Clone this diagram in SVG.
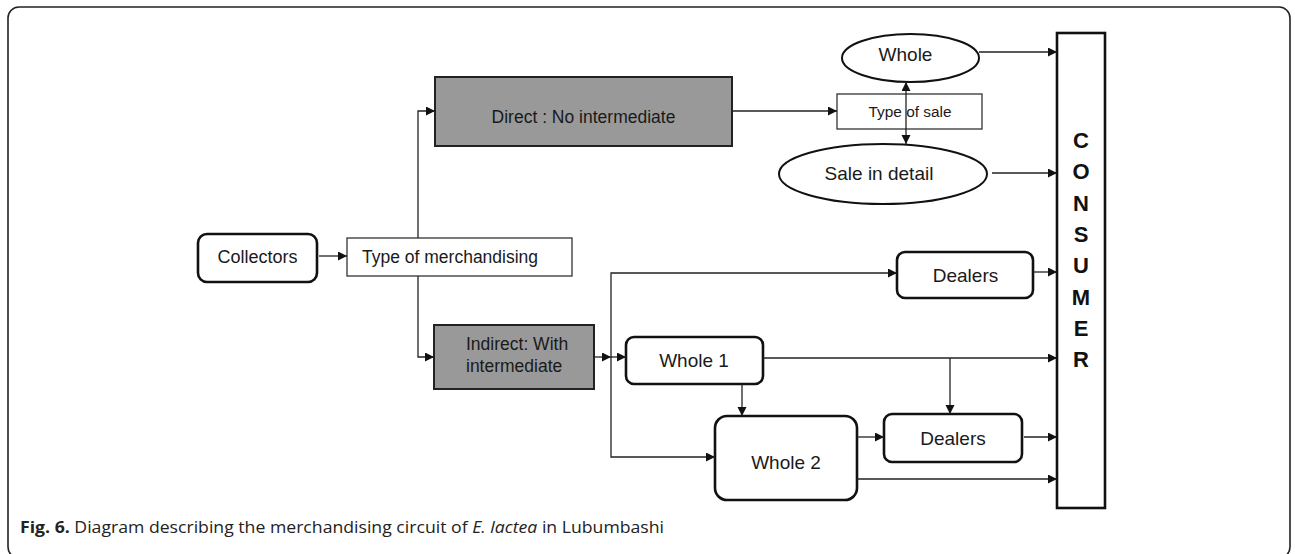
<svg xmlns="http://www.w3.org/2000/svg" width="1295" height="554" viewBox="0 0 1295 554">
<style>
.t{font-family:"Liberation Sans",Arial,sans-serif;fill:#1a1a1a}
.rn{fill:#fff;stroke:#111;stroke-width:2.6}
.bx{fill:#fff;stroke:#333;stroke-width:1.3}
.gr{fill:#999;stroke:#222;stroke-width:2}
.el{fill:#fff;stroke:#111;stroke-width:2}
.c{fill:none;stroke:#222;stroke-width:1.3}
.a{marker-end:url(#ah)}
.cons{font-family:"Liberation Sans",Arial,sans-serif;font-weight:bold;font-size:22px;fill:#111}
.cap{font-family:"Open Sans","Noto Sans",sans-serif;font-size:16.5px;fill:#222}
</style>
<defs>
<marker id="ah" markerUnits="userSpaceOnUse" markerWidth="10" markerHeight="10" refX="9" refY="4.5" orient="auto">
<path d="M0,0 L9,4.5 L0,9 z" fill="#111"/>
</marker>
</defs>
<rect x="8" y="7" width="1282" height="551" rx="11" fill="#fff" stroke="#222" stroke-width="1.6"/>

<g id="collectors">
<rect class="rn" x="198" y="234" width="119" height="48" rx="9"/>
<text class="t" x="257.5" y="263" font-size="18" text-anchor="middle">Collectors</text>
</g>
<g id="type-merch">
<rect class="bx" x="347" y="238" width="225" height="38"/>
<text class="t" x="362" y="263" font-size="17.5">Type of merchandising</text>
</g>
<g id="direct">
<rect class="gr" x="435" y="77" width="297" height="69"/>
<text class="t" x="583.5" y="123" font-size="17.5" text-anchor="middle">Direct : No intermediate</text>
</g>
<g id="type-sale">
<rect class="bx" x="837" y="94" width="145" height="35"/>
<text class="t" x="910" y="117" font-size="15.4" text-anchor="middle">Type of sale</text>
</g>
<g id="whole">
<ellipse class="el" cx="910.5" cy="58" rx="68.5" ry="24"/>
<text class="t" x="905.5" y="61" font-size="19" text-anchor="middle">Whole</text>
</g>
<g id="sale-detail">
<ellipse class="el" cx="883" cy="174" rx="104" ry="30"/>
<text class="t" x="879" y="180" font-size="19" text-anchor="middle">Sale in detail</text>
</g>
<g id="indirect">
<rect class="gr" x="434" y="325" width="160" height="64"/>
<text class="t" x="466" y="350" font-size="17.5">Indirect: With</text>
<text class="t" x="466" y="372" font-size="17.5">intermediate</text>
</g>
<g id="dealers1">
<rect class="rn" x="897" y="252" width="136" height="46" rx="8"/>
<text class="t" x="965.5" y="282" font-size="19" text-anchor="middle">Dealers</text>
</g>
<g id="whole1">
<rect class="rn" x="626" y="337" width="137" height="47" rx="8"/>
<text class="t" x="694" y="367" font-size="19" text-anchor="middle">Whole 1</text>
</g>
<g id="whole2">
<rect class="rn" x="715" y="416" width="142" height="84" rx="12"/>
<text class="t" x="786" y="469" font-size="19" text-anchor="middle">Whole 2</text>
</g>
<g id="dealers2">
<rect class="rn" x="884" y="414" width="138" height="48" rx="8"/>
<text class="t" x="953" y="445" font-size="19" text-anchor="middle">Dealers</text>
</g>
<g id="consumer">
<rect x="1057" y="33" width="48" height="475" fill="#fff" stroke="#111" stroke-width="2.6"/>
<text class="cons" x="1081" y="148" text-anchor="middle">C</text>
<text class="cons" x="1081" y="179" text-anchor="middle">O</text>
<text class="cons" x="1081" y="211" text-anchor="middle">N</text>
<text class="cons" x="1081" y="242" text-anchor="middle">S</text>
<text class="cons" x="1081" y="273" text-anchor="middle">U</text>
<text class="cons" x="1081" y="305" text-anchor="middle">M</text>
<text class="cons" x="1081" y="336" text-anchor="middle">E</text>
<text class="cons" x="1081" y="367" text-anchor="middle">R</text>
</g>

<g id="connectors">
<path class="c a" d="M319,256 H347"/>
<path class="c a" d="M418,238 V111 H435"/>
<path class="c a" d="M418,276 V357 H434"/>
<path class="c a" d="M732,111 H837"/>
<path class="c a" d="M906,112 V82"/>
<path class="c a" d="M906,112 V144"/>
<path class="c a" d="M979,52 H1057"/>
<path class="c a" d="M992,173 H1057"/>
<path class="c a" d="M594,357 H611"/>
<path class="c a" d="M611,357 H626"/>
<path class="c a" d="M611,357 V273 H897"/>
<path class="c a" d="M611,357 V457 H715"/>
<path class="c a" d="M1033,272 H1057"/>
<path class="c a" d="M763,358 H1057"/>
<path class="c a" d="M950,358 V414"/>
<path class="c a" d="M742,384 V416"/>
<path class="c a" d="M857,437 H884"/>
<path class="c a" d="M1024,437 H1057"/>
<path class="c a" d="M857,479 H1057"/>
</g>

<text class="cap" x="20" y="533" textLength="644" lengthAdjust="spacingAndGlyphs"><tspan font-weight="bold">Fig. 6.</tspan> Diagram describing the merchandising circuit of <tspan font-style="italic">E. lactea</tspan> in Lubumbashi</text>
</svg>
